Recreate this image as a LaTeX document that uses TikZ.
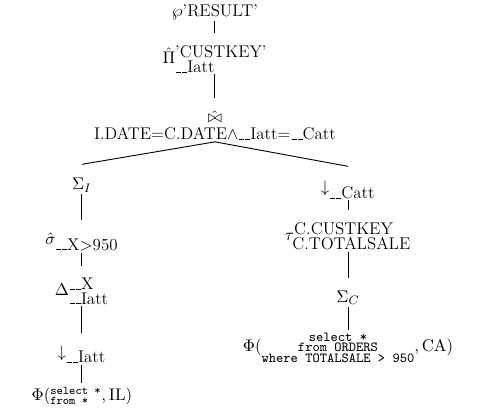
\documentclass[tikz,border=0pt]{standalone}
\usepackage{amsmath,amssymb}
\newcommand{\uscore}{\leavevmode\kern.06em\vbox{\hrule width.3em}}
\newcommand{\attr}[1]{\mbox{\uscore\uscore#1}}
\newcommand{\sqlline}[1]{\mbox{\small\ttfamily #1}}

\begin{document}
\begin{tikzpicture}[every node/.style={font=\fontsize{11}{13}\selectfont}, op/.style={anchor=base, inner sep=1pt}, edge/.style={semithick, shorten >=7pt}]
			\useasboundingbox (0,0) rectangle (11.17,9.46);
			\node[op] (res) at (4.91, 9.09) {$\wp\mbox{'RESULT'}$};
			\node[op] (proj) at (4.91, 8.00) {$\hat{\Pi}^{\mbox{'CUSTKEY'}}_{\attr{Iatt}}$};
			\node[anchor=south, inner sep=1pt, align=center] (join) at (4.91, 6.22) {$\hat{\bowtie}$\\[-2pt]I.DATE=C.DATE$\wedge$\attr{Iatt}=\attr{Catt}};
			% left branch
			\node[op] (sigI) at (1.87, 5.12) {$\Sigma_I$};
			\node[op] (sel) at (1.87, 3.88) {$\hat{\sigma}_{\mbox{\uscore\uscore X$>$950}}$};
			\node[op] (dup) at (1.87, 2.70) {$\Delta^{\attr{X}}_{\attr{Iatt}}$};
			\node[op] (pullI) at (1.87, 1.30) {$\downarrow_{\attr{Iatt}}$};
			\node[op] (phiIL) at (1.87, 0.32) {$\Phi(^{\texttt{select *}}_{\texttt{from *}},\mathrm{IL})$};
			% right branch
			\node[op] (pullC) at (7.95, 5.07) {$\downarrow_{\attr{Catt}}$};
			\node[op] (tau) at (7.95, 3.97) {$\tau^{\mbox{C.CUSTKEY}}_{\mbox{C.TOTALSALE}}$};
			\node[op] (sigC) at (7.95, 2.56) {$\Sigma_C$};
			\node[op] (phiCA) at (7.95, 1.42) {$\Phi(\substack{\sqlline{select *}\\ \sqlline{from ORDERS}\\ \sqlline{where TOTALSALE > 950}},\mathrm{CA})$};
			\draw[edge] (res) to (proj);
			\draw[edge] (proj) to (join);
			\draw[semithick] (join.south) to ([yshift=8pt]sigI.north);
			\draw[semithick] (join.south) to ([yshift=8pt]pullC.north);
			\draw[edge] (sigI) to (sel);
			\draw[edge] (sel) to (dup);
			\draw[edge] (dup) to (pullI);
			\draw[edge, shorten >=1pt] (pullI) to (phiIL);
			\draw[edge] (pullC) to (tau);
			\draw[edge] (tau) to (sigC);
			\draw[edge, shorten >=1pt] (sigC) to (phiCA);
		\end{tikzpicture}
\end{document}
